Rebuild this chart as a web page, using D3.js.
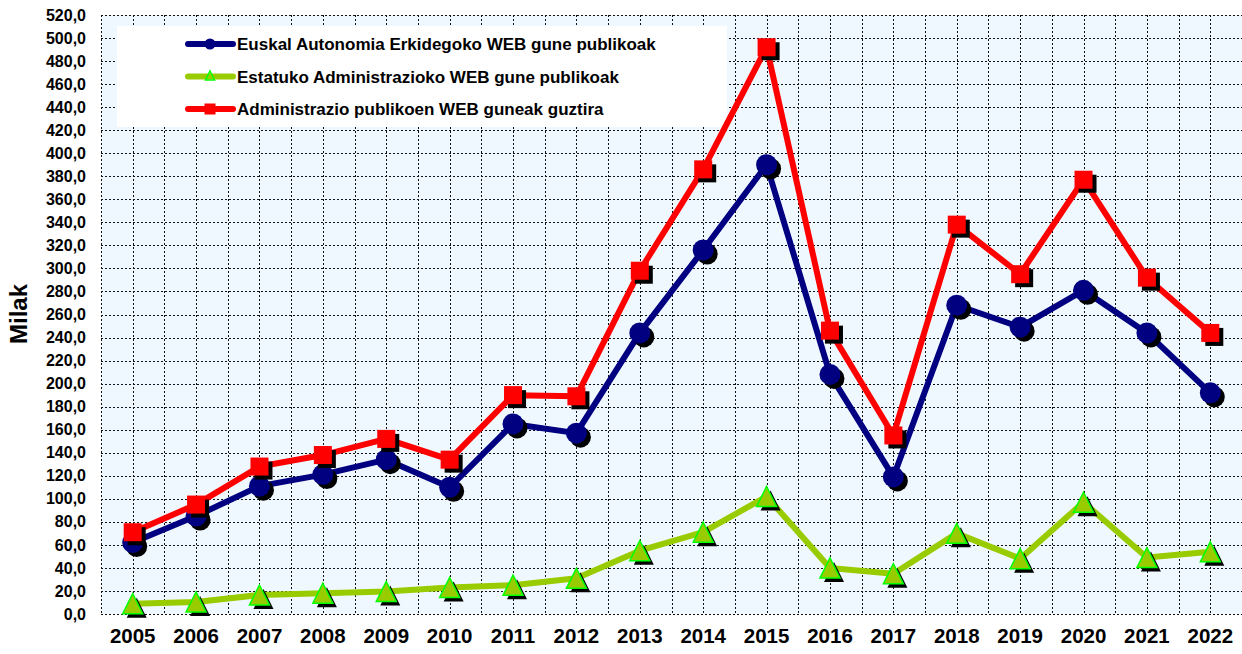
<!DOCTYPE html>
<html>
<head>
<meta charset="utf-8">
<script src="https://cdn.jsdelivr.net/npm/d3@7"></script>
<style>
  body { margin: 0; background: #fff; }
  svg { display: block; font-family: "Liberation Sans", Arial, sans-serif; }
</style>
</head>
<body>
<div id="grafica"></div>
<script>
// datos (milak)
var years = ["2005","2006","2007","2008","2009","2010","2011","2012","2013",
             "2014","2015","2016","2017","2018","2019","2020","2021","2022"];

var euskal = [62, 85, 111, 121, 134, 110, 165, 157, 244, 316, 390, 208, 119, 268, 249, 281, 244, 192];
var estatuko = [9, 10.5, 16.5, 18, 19.5, 23, 25, 31, 55, 71, 102, 40, 35, 70, 48, 97, 49, 54];
var guztira = [71, 95, 128, 138, 152, 134, 190, 189, 298, 386, 492, 246, 155, 338, 295, 377, 292, 244];

var yTicks = d3.range(0, 521, 20);

var legendNames = ["Euskal Autonomia Erkidegoko WEB gune publikoak",
                   "Estatuko Administrazioko WEB gune publikoak",
                   "Administrazio publikoen WEB guneak guztira"];

// dimensiones
var w_full = 1242,
    h_full = 654;

var margin = {
        top: 15,
        right: 0,
        bottom: 40,
        left: 101
    };

var w = w_full - margin.left - margin.right,
    h = h_full - margin.top - margin.bottom;

var svg = d3.select("#grafica")
            .append("svg")
            .attr("width", w_full)
            .attr("height", h_full);

var g = svg.append("g")
           .attr("transform", "translate(" + margin.left + "," + margin.top + ")");

var x = d3.scaleBand()
          .domain(years)
          .range([0, w])
          .padding(0);

var y = d3.scaleLinear()
          .domain([0, 520])
          .range([h, 0]);

function cx(i) { return x(years[i]) + x.bandwidth() / 2; }

// fondo
g.append("rect")
    .attr("x", 0)
    .attr("y", 0)
    .attr("width", w)
    .attr("height", h)
    .style("fill", "#f0f8ff");

// rejilla horizontal
g.selectAll(".hgrid")
    .data(yTicks)
    .enter()
    .append("line")
    .attr("x1", 0)
    .attr("x2", w)
    .attr("y1", function(d) { return Math.round(y(d)) + 0.5; })
    .attr("y2", function(d) { return Math.round(y(d)) + 0.5; })
    .attr("stroke", "#111")
    .attr("stroke-width", 1)
    .style("stroke-dasharray", "2,2");

// rejilla vertical (bordes y centros)
var vgrid = [];
years.forEach(function(d) {
    vgrid.push(x(d));
    vgrid.push(x(d) + x.bandwidth() / 2);
});
vgrid.push(w - 0.5);

g.selectAll(".vgrid")
    .data(vgrid)
    .enter()
    .append("line")
    .attr("x1", function(d) { return Math.round(d) + 0.5; })
    .attr("x2", function(d) { return Math.round(d) + 0.5; })
    .attr("y1", 0)
    .attr("y2", h)
    .attr("stroke", "#111")
    .attr("stroke-width", 1)
    .style("stroke-dasharray", "2,2");

// leyenda (fondo blanco)
g.append("rect")
    .attr("x", 117 - margin.left)
    .attr("y", 26 - margin.top)
    .attr("width", 610)
    .attr("height", 101)
    .style("fill", "#ffffff");

// ejes
var fmt = function(d) { return d3.format(".1f")(d).replace(".", ","); };

g.append("g")
    .attr("class", "yaxis")
    .call(d3.axisLeft(y).tickValues(yTicks).tickFormat(fmt).tickSize(0).tickPadding(15))
    .call(function(s) { s.select(".domain").remove(); })
    .selectAll("text")
    .style("font-family", "'Liberation Sans', Arial, sans-serif")
    .style("font-size", "16px")
    .style("font-weight", "bold")
    .style("fill", "#000");

g.append("g")
    .attr("class", "xaxis")
    .attr("transform", "translate(0," + h + ")")
    .call(d3.axisBottom(x).tickSize(0).tickPadding(14))
    .call(function(s) { s.select(".domain").remove(); })
    .selectAll("text")
    .style("font-family", "'Liberation Sans', Arial, sans-serif")
    .style("font-size", "20.5px")
    .style("font-weight", "bold")
    .style("fill", "#000");

svg.append("text")
    .attr("transform", "translate(27,314) rotate(-90)")
    .style("text-anchor", "middle")
    .style("font-size", "24px")
    .style("font-weight", "bold")
    .text("Milak");

// marcadores
var sh = 4;
function drawMarker(sel, type, px, py, size, fill, stroke) {
    if (type === "circle") {
        sel.append("circle")
            .attr("cx", px).attr("cy", py).attr("r", size / 2)
            .style("fill", fill);
    } else if (type === "square") {
        sel.append("rect")
            .attr("x", px - size / 2).attr("y", py - size / 2)
            .attr("width", size).attr("height", size)
            .style("fill", fill);
    } else {
        var pts = [[px, py - size / 2], [px + size / 2, py + size / 2], [px - size / 2, py + size / 2]];
        sel.append("polygon")
            .attr("points", pts.map(function(p) { return p.join(","); }).join(" "))
            .style("fill", fill)
            .style("stroke", stroke || "none")
            .style("stroke-width", stroke ? 1.5 : 0);
    }
}

var series = [
    { values: euskal, color: "#000080", marker: "circle", size: 21, mfill: "#000080", width: 6 },
    { values: estatuko, color: "#99cc00", marker: "triangle", size: 20, mfill: "#99cc00", mstroke: "#00ff00", width: 6 },
    { values: guztira, color: "#ff0000", marker: "square", size: 18, mfill: "#ff0000", width: 6 }
];

series.forEach(function(s) {
    g.append("path")
        .datum(s.values)
        .attr("fill", "none")
        .attr("stroke", s.color)
        .attr("stroke-width", s.width)
        .attr("stroke-linejoin", "round")
        .attr("d", d3.line()
          .x(function(d, i) { return cx(i); })
          .y(function(d) { return y(d); })
          );

    var mk = g.append("g");
    s.values.forEach(function(d, i) {
        drawMarker(mk, s.marker, cx(i) + sh, y(d) + sh, s.size, "#000", null);
    });
    s.values.forEach(function(d, i) {
        drawMarker(mk, s.marker, cx(i), y(d), s.size, s.mfill, s.mstroke);
    });
});

// Leyenda
var leg = svg.append("g");
series.forEach(function(s, i) {
    var ly = 44 + i * 32.5;
    leg.append("line")
        .attr("x1", 188).attr("x2", 233)
        .attr("y1", ly).attr("y2", ly)
        .attr("stroke", s.color)
        .attr("stroke-width", 6)
        .attr("stroke-linecap", "round");
    if (s.marker === "triangle") {
        drawMarker(leg, "triangle", 210, ly - 1, 9, "none", "#00ff00");
    } else {
        drawMarker(leg, s.marker, 210, ly, 11, s.mfill, null);
    }
    leg.append("text")
        .attr("x", 237)
        .attr("y", ly)
        .attr("dy", "0.36em")
        .style("font-size", "17px")
        .style("font-weight", "bold")
        .text(legendNames[i]);
});
</script>
</body>
</html>
